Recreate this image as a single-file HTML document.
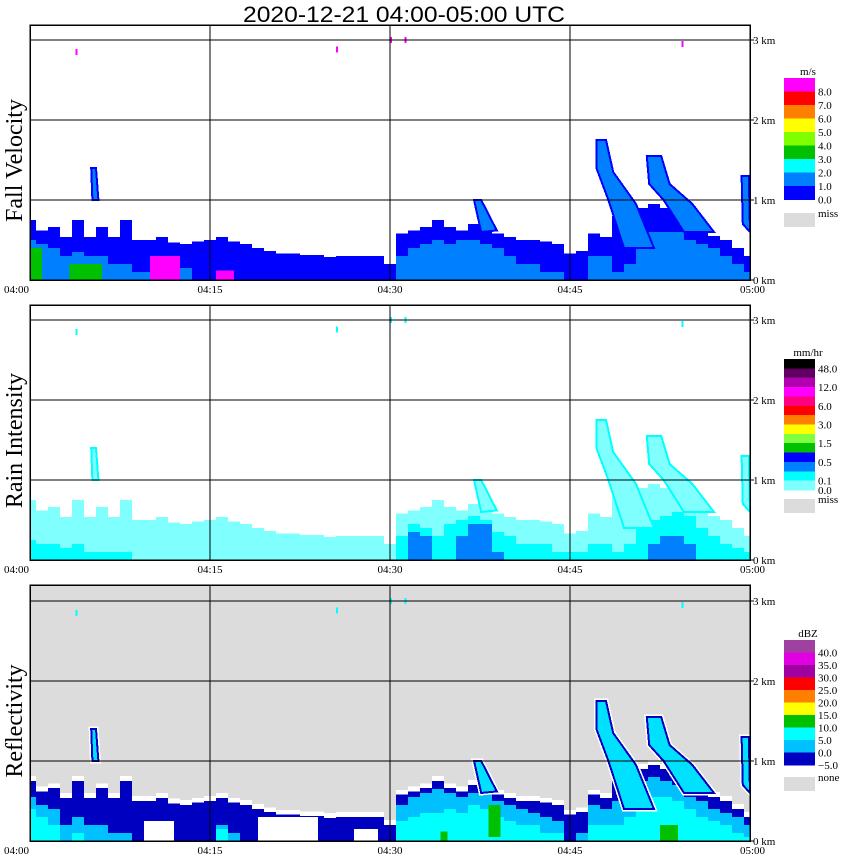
<!DOCTYPE html>
<html><head><meta charset="utf-8">
<style>
html,body{margin:0;padding:0;background:#fff;}
svg{display:block;}
text{font-family:"Liberation Serif",serif;}
</style></head>
<body>
<svg id="chart" width="850" height="868" viewBox="0 0 850 868" xmlns="http://www.w3.org/2000/svg">
<text x="404" y="22" text-anchor="middle" font-size="22" style="font-family:'Liberation Sans',sans-serif" textLength="322" lengthAdjust="spacingAndGlyphs">2020-12-21   04:00-05:00 UTC</text>
</svg>
<script>
// ---- data (minutes after 04:00, heights in km) ----
const timeLabels = ["04:00","04:15","04:30","04:45","05:00"];
const timeTicks = [0,15,30,45,60];
const kmTicks = [0,1,2,3];
const echoTop = [0.75,0.62,0.66,0.54,0.75,0.54,0.66,0.54,0.75,0.5,0.5,0.54,0.47,0.45,0.48,0.5,0.54,0.48,0.45,0.4,0.36,0.33,0.33,0.31,0.31,0.29,0.3,0.3,0.3,0.3,0.2,0.58,0.62,0.66,0.75,0.66,0.62,0.7,0.75,0.58,0.54,0.5,0.5,0.48,0.45,0.33,0.36,0.58,0.54,0.8,0.75,0.9,0.95,0.9,0.85,0.7,0.6,0.55,0.5,0.4,0.3];
const velCore = [0.5,0.45,0.4,0.3,0.35,0.3,0.3,0.2,0.2,0.1,0.1,0.1,0.1,0.15,0,0,0,0,0,0,0,0,0,0,0,0,0,0,0,0,0,0.3,0.4,0.45,0.5,0.45,0.5,0.5,0.45,0.4,0.3,0.2,0.2,0.1,0.1,0,0,0.3,0.3,0.1,0.2,0.5,0.6,0.6,0.6,0.5,0.45,0.4,0.3,0.2,0.1];
const rainCore = [0.25,0.2,0.2,0.15,0.2,0.1,0.1,0.1,0.1,0,0,0,0,0,0,0,0,0,0,0,0,0,0,0,0,0,0,0,0,0,0,0.3,0.45,0.4,0.3,0.45,0.5,0.55,0.5,0.35,0.3,0.2,0.2,0.2,0.1,0.1,0.1,0.2,0.2,0.1,0.2,0.4,0.5,0.55,0.6,0.55,0.4,0.3,0.2,0.15,0.1];
const rainCore2 = [0,0,0,0,0,0,0,0,0,0,0,0,0,0,0,0,0,0,0,0,0,0,0,0,0,0,0,0,0,0,0,0,0.35,0.3,0,0,0.3,0.45,0.45,0.1,0,0,0,0,0,0,0,0,0,0,0,0,0.2,0.3,0.3,0.2,0,0,0,0,0];
const reflCore = [0.55,0.45,0.4,0.2,0.3,0.2,0.2,0.1,0.1,0,0,0,0,0,0,0,0.2,0.1,0,0,0,0,0,0,0,0,0,0,0,0,0,0.45,0.55,0.6,0.65,0.6,0.55,0.6,0.6,0.5,0.45,0.4,0.35,0.3,0.25,0,0.1,0.45,0.4,0.5,0.55,0.75,0.8,0.75,0.7,0.55,0.5,0.4,0.35,0.3,0.2];
const reflCore2 = [0.4,0.3,0.2,0,0.1,0,0,0,0,0,0,0,0,0,0,0,0.15,0,0,0,0,0,0,0,0,0,0,0,0,0,0,0.25,0.3,0.35,0.35,0.4,0.35,0.45,0.4,0.3,0.25,0.2,0.2,0.1,0.1,0,0,0.2,0.2,0.2,0.3,0.5,0.55,0.55,0.5,0.4,0.3,0.25,0.2,0.1,0.05];
const streakA = [[47.2,1.75],[48.0,1.75],[48.6,1.35],[50.5,0.95],[52,0.4],[49.5,0.4],[48.2,1.0],[47.2,1.4]];
const streakB = [[51.4,1.55],[52.6,1.55],[53.3,1.2],[55.2,0.95],[57,0.6],[54.5,0.6],[52.8,1.0],[51.6,1.2]];
const streakC = [[59.3,1.3],[59.9,1.3],[60,0.6],[59.4,0.7]];
const streakD = [[37,1.0],[37.6,1.0],[38.9,0.62],[37.6,0.6]];
const streakE = [[5.1,1.4],[5.5,1.4],[5.7,1.0],[5.2,1.0]];
const velPatches = [[10,12.5,0,0.3,"m"],[15.5,17,0,0.12,"m"],[3.3,6,0,0.2,"g"],[0,1,0,0.4,"g"]];
const reflPatches = [[9.5,12,0,0.25,"w"],[19,24,0,0.3,"w"],[27,29,0,0.15,"w"],[38.2,39.2,0.05,0.45,"g"],[52.5,54,0,0.2,"g"],[34.2,34.8,0,0.12,"g"]];
const dots = [[3.8,2.85],[25.5,2.88],[30,3.0],[31.2,3.0],[54.3,2.95]];

const panels = [
 {top:25, zero:280, name:"fall-velocity", label:"Fall Velocity", bg:"#fff", outer:"#0000ff", layers:[[velCore,"#0080ff"]], streakFill:"#0080ff", streakEdge:"#0000ff", patches:velPatches, dotColor:"#ff00ff"},
 {top:305, zero:560, name:"rain-intensity", label:"Rain Intensity", bg:"#fff", outer:"#80ffff", layers:[[rainCore,"#00ffff"],[rainCore2,"#0080ff"]], streakFill:"#80ffff", streakEdge:"#00ffff", patches:[], dotColor:"#00ffff"},
 {top:585, zero:841, name:"reflectivity", label:"Reflectivity", bg:"#dcdcdc", outer:"#0000c0", layers:[[reflCore,"#00c0ff"],[reflCore2,"#00ffff"]], streakFill:"#00e0ff", streakEdge:"#0000c0", patches:reflPatches, dotColor:"#00ffff", halo:true}
];
const velLegend = {top:78, h:13.5, colors:["#ff00ff","#ff0000","#ff8000","#ffff00","#80ff00","#00c000","#00ffff","#0080ff","#0000ff"], labels:["8.0","7.0","6.0","5.0","4.0","3.0","2.0","1.0","0.0"], unit:"m/s", miss:"miss", missY:213};
const rainLegend = {top:359, h:9.36, colors:["#000000","#600060","#b000b0","#ff00ff","#ff0080","#ff0000","#ff8000","#ffff00","#80ff40","#00c000","#0000ff","#0080ff","#00ffff","#80ffff"], labels:["48.0","","12.0","","6.0","","3.0","","1.5","","0.5","","0.1","0.0"], unit:"mm/hr", miss:"miss", missY:499};
const reflLegend = {top:640, h:12.5, colors:["#a040a0","#e000e0","#a000a0","#ff0000","#ff8000","#ffff00","#00c000","#00ffff","#00c0ff","#0000c0"], labels:["40.0","35.0","30.0","25.0","20.0","15.0","10.0","5.0","0.0","\u22125.0"], unit:"dBZ", miss:"none", missY:777};
const legends = [velLegend, rainLegend, reflLegend];

const X0=30, X1=750, KM=80;
const svg=document.getElementById('chart');
const NS="http://www.w3.org/2000/svg";
function xs(t){return X0+t*(X1-X0)/60;}
function mk(tag,attrs,parent){const e=document.createElementNS(NS,tag);for(const k in attrs)e.setAttribute(k,attrs[k]);(parent||svg).appendChild(e);return e;}
function profilePath(arr,p,pad){
  const ys=km=>p.zero-km*KM;
  let d="M"+xs(0)+","+p.zero;
  arr.forEach((v,i)=>{
    const h=v>0?v+pad:0;
    const xa=xs(Math.max(0,i-0.5)), xb=xs(Math.min(60,i+0.5));
    d+=" L"+xa+","+ys(h)+" L"+xb+","+ys(h);
  });
  d+=" L"+xs(60)+","+p.zero+" Z";
  return d;
}
function polyPts(poly,p){return poly.map(q=>xs(q[0])+","+(p.zero-q[1]*KM)).join(" ");}
const patchColors={m:"#ff00ff",g:"#00c000",w:"#ffffff"};

panels.forEach((p,pi)=>{
  const g=mk('g',{});
  
  
  const bg=mk('rect',{x:X0,y:p.top,width:X1-X0,height:p.zero-p.top,fill:p.bg},g);
  
  
  const dg=mk('g',{'shape-rendering':'crispEdges'},g);
  
  
  if(p.halo){
    const h=mk('path',{d:profilePath(echoTop,p,0.06),fill:"#ffffff"},dg);
    
    
  }
  const env=mk('path',{d:profilePath(echoTop,p,0),fill:p.outer},dg);
  
  
  p.layers.forEach(L=>{
    const c=mk('path',{d:profilePath(L[0],p,0),fill:L[1]},dg);
    
    
  });
  [streakA,streakB,streakC,streakD,streakE].forEach(s=>{
    if(p.halo){const hs=mk('polygon',{points:polyPts(s,p),fill:"none",stroke:"#fff","stroke-width":5},dg);
      
      }
    const sp=mk('polygon',{points:polyPts(s,p),fill:p.streakFill,stroke:p.streakEdge,"stroke-width":2},dg);
    
    
  });
  p.patches.forEach(q=>{
    const r=mk('rect',{x:xs(q[0]),y:p.zero-q[3]*KM,width:xs(q[1])-xs(q[0]),height:(q[3]-q[2])*KM,fill:patchColors[q[4]]},dg);
    
    
  });
  dots.forEach(d=>{
    const r=mk('rect',{x:xs(d[0]),y:p.zero-d[1]*KM-3,width:2,height:6,fill:p.dotColor},dg);
    
    
  });
  kmTicks.forEach(k=>{
    if(k===0)return;
    const y=p.zero-k*KM;
    const l=mk('line',{x1:X0,x2:X1,y1:y,y2:y,stroke:"#000","stroke-width":1,'shape-rendering':'crispEdges'},g);
    
    
  });
  timeTicks.forEach(t=>{
    if(t===0||t===60)return;
    const l=mk('line',{x1:xs(t),x2:xs(t),y1:p.top,y2:p.zero,stroke:"#000","stroke-width":1,'shape-rendering':'crispEdges'},g);
    
    
  });
  const fr=mk('rect',{x:X0,y:p.top,width:X1-X0,height:p.zero-p.top,fill:"none",stroke:"#000","stroke-width":1.5,'shape-rendering':'crispEdges'},g);
  
  
  kmTicks.forEach(k=>{
    const y=p.zero-k*KM;
    const tk=mk('line',{x1:X1,x2:X1+4,y1:y,y2:y,stroke:"#000"},g);
    
    
    const tx=mk('text',{x:X1+3,y:y+4,'font-size':11},g);
    tx.textContent=k+" km";
    
    
  });
  timeTicks.forEach((t,i)=>{
    const anchor=i===0?"start":(i===4?"end":"middle");
    const xx=i===0?4:(i===4?765:xs(t));
    const tx=mk('text',{x:xx,y:p.zero+13,'font-size':11,'text-anchor':anchor},g);
    tx.textContent=timeLabels[i];
    
    
  });
  const cy=(p.top+p.zero)/2+8;
  const lb=mk('text',{x:22,y:cy,'font-size':24,'text-anchor':'middle',transform:"rotate(-90 22 "+cy+")"},g);
  lb.textContent=p.label;
  
  
  const L=legends[pi];
  const lg=mk('g',{},g);
  
  
  const ut=mk('text',{x:808,y:L.top-3,'font-size':11,'text-anchor':'middle'},lg);
  ut.textContent=L.unit;
  
  
  L.colors.forEach((c,i)=>{
    const r=mk('rect',{x:784,y:L.top+i*L.h,width:31,height:L.h+0.5,fill:c,'shape-rendering':'crispEdges'},lg);
    
    
  });
  L.labels.forEach((s,i)=>{
    if(!s)return;
    const tx=mk('text',{x:818,y:L.top+(i+1)*L.h+4,'font-size':11},lg);
    tx.textContent=s;
    
    
  });
  const ms=mk('rect',{x:784,y:L.missY,width:31,height:14,fill:"#dcdcdc"},lg);
  
  
  const mt=mk('text',{x:818,y:L.missY+4,'font-size':11},lg);
  mt.textContent=L.miss;
  
  
});
</script>
</body></html>
